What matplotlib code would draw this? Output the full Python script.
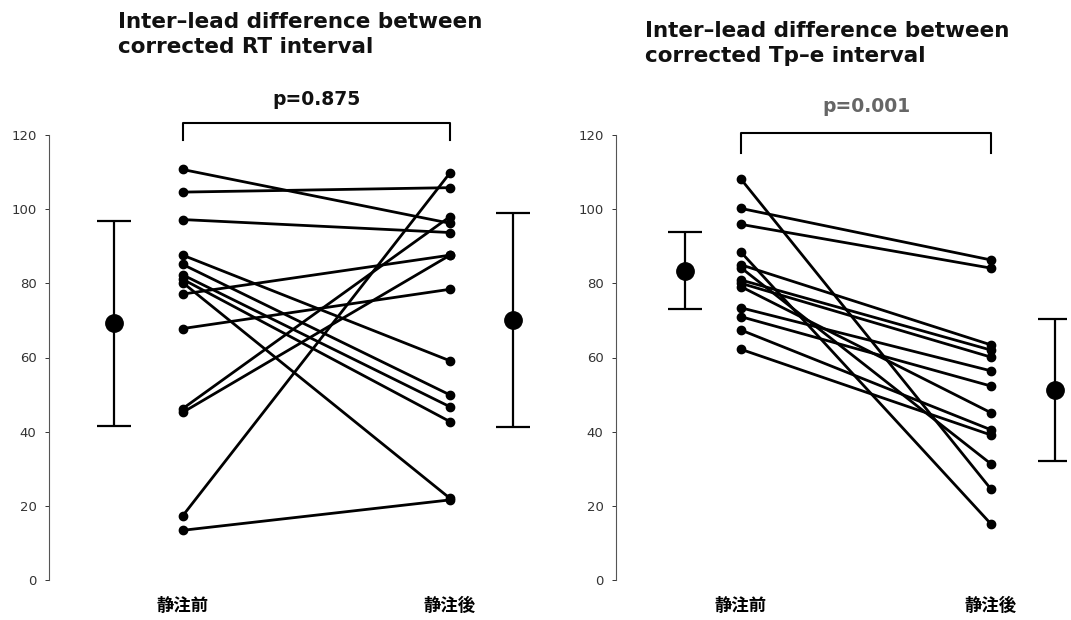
import matplotlib
matplotlib.use("Agg")
import matplotlib.pyplot as plt

plt.rcParams['font.family'] = ['DejaVu Sans', 'Noto Sans CJK JP']

# ---- data ----
categories = ["静注前", "静注後"]
yticks = [0, 20, 40, 60, 80, 100, 120]

rt_before = [110.7, 104.6, 97.2, 87.6, 85.1, 82.3, 81.1, 80.2, 77.1, 67.8, 46.2, 45.2, 17.3, 13.4]
rt_after = [96.2, 105.8, 93.7, 59.1, 49.9, 46.7, 42.7, 22.0, 87.6, 78.4, 98.0, 87.6, 109.8, 21.6]
rt_mean = [69.2, 70.1]
rt_sd = [27.7, 28.8]
rt_p = "p=0.875"
rt_title = "Inter\u2013lead difference between\ncorrected RT interval"

tpe_before = [108.1, 100.2, 95.9, 88.4, 85.0, 84.2, 80.9, 80.0, 79.1, 73.4, 71.0, 67.4, 62.2]
tpe_after = [24.5, 86.3, 84.1, 15.1, 63.4, 31.3, 62.0, 60.1, 45.1, 56.4, 52.3, 40.5, 39.1]
tpe_mean = [83.4, 51.2]
tpe_sd = [10.4, 19.2]
tpe_p = "p=0.001"
tpe_title = "Inter\u2013lead difference between\ncorrected Tp\u2013e interval"

fig = plt.figure(figsize=(10.71, 6.2), dpi=100)
ax1 = fig.add_axes([49 / 1071, 1 - 580 / 620, 508 / 1071, 445 / 620])
ax2 = fig.add_axes([616 / 1071, 1 - 580 / 620, 450 / 1071, 445 / 620])


def draw(ax, before, after, mean, sd, mean_x, xlim, ptext, pcolor, br_y, br_drop, p_y):
    for b, a in zip(before, after):
        ax.plot([1, 2], [b, a], color='black', lw=2.0, marker='o', ms=6,
                solid_capstyle='round', zorder=3)
    ax.errorbar(mean_x, mean, yerr=sd, fmt='o', color='black', ms=12.5,
                elinewidth=1.6, capsize=12, capthick=1.6, zorder=4)
    ax.set_xlim(*xlim)
    ax.set_ylim(0, 120)
    ax.set_yticks(yticks)
    ax.set_xticks([1, 2])
    ax.set_xticklabels(categories, fontsize=12.5, fontweight='bold',
                       family=['Noto Sans CJK JP'])
    ax.tick_params(axis='x', length=0, pad=12)
    ax.tick_params(axis='y', length=3, width=0.7, colors='#333333',
                   labelsize=9.5, pad=6, direction='out')
    for s in ['top', 'right', 'bottom']:
        ax.spines[s].set_visible(False)
    ax.spines['left'].set_color('#555555')
    ax.spines['left'].set_linewidth(0.8)
    # bracket
    ax.plot([1, 1, 2, 2], [br_y - br_drop, br_y, br_y, br_y - br_drop],
            color='black', lw=1.5, clip_on=False)
    ax.text(1.5, p_y, ptext, ha='center', va='center', fontsize=13.5,
            fontweight='bold', color=pcolor, clip_on=False)


draw(ax1, rt_before, rt_after, rt_mean, rt_sd, [0.742, 2.236], (0.5, 2.4),
     rt_p, '#111111', 123.2, 4.6, 129.6)
draw(ax2, tpe_before, tpe_after, tpe_mean, tpe_sd, [0.776, 2.256], (0.5, 2.3),
     tpe_p, '#666666', 120.5, 5.4, 127.6)

fig.text(118 / 1071, 1 - 12 / 620, rt_title, ha='left', va='top',
         fontsize=15.5, fontweight='bold', color='#111111', linespacing=1.3)
fig.text(645 / 1071, 1 - 21 / 620, tpe_title, ha='left', va='top',
         fontsize=15.5, fontweight='bold', color='#111111', linespacing=1.3)

fig.savefig("out.png", dpi=100)
